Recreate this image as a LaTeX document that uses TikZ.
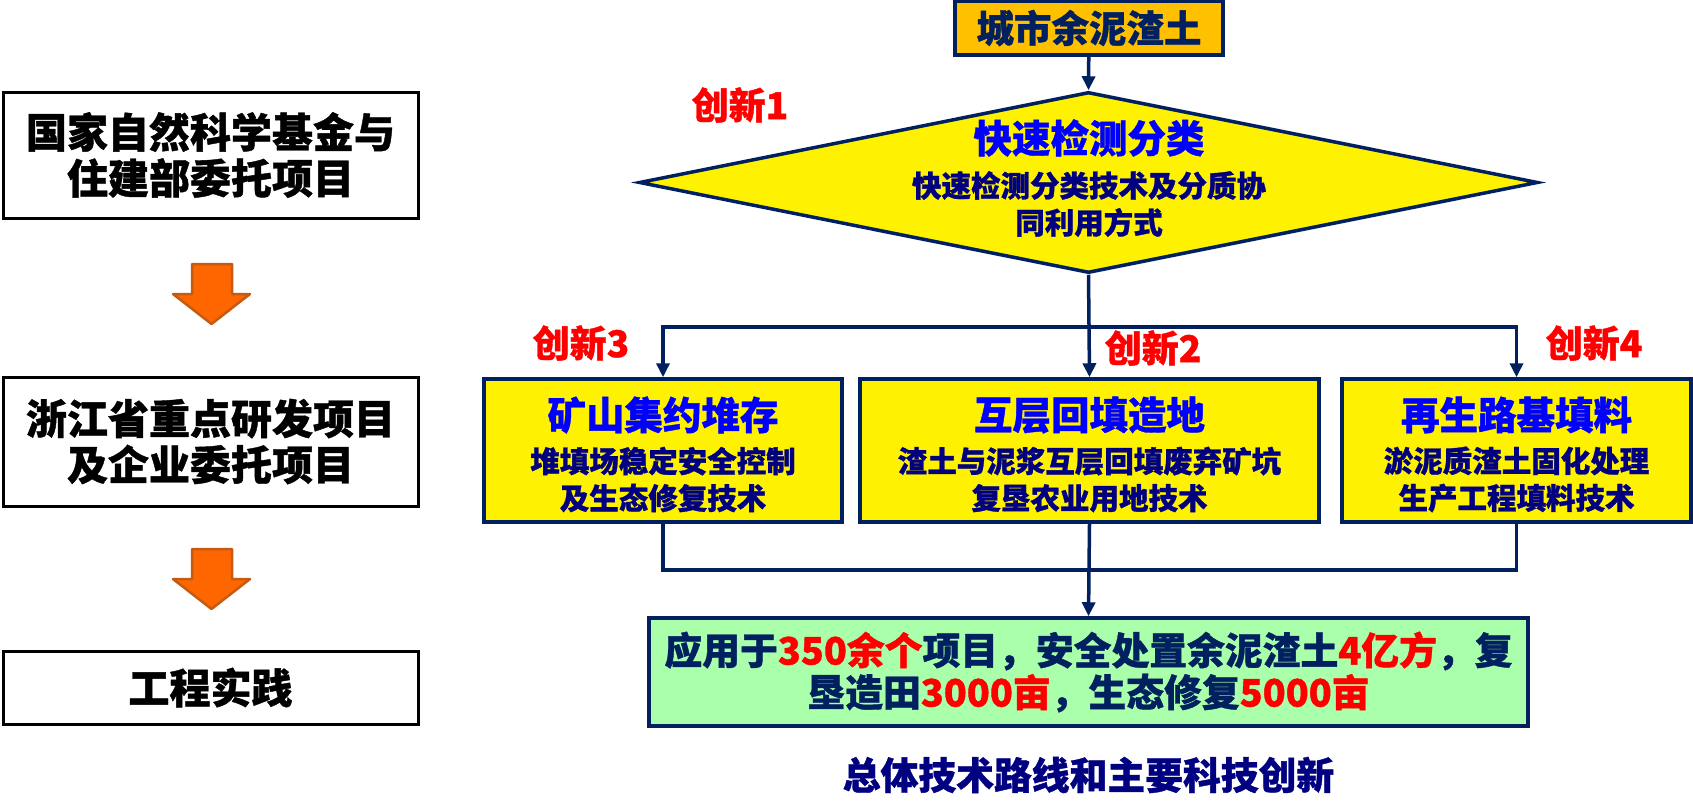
\documentclass[tikz,border=0pt]{standalone}
\usepackage{fontspec}
\setmainfont{Noto Sans CJK SC}[BoldFeatures={FakeBold=1}]
\usetikzlibrary{shapes.geometric,arrows.meta}
\definecolor{navy}{RGB}{0,32,96}
\definecolor{tblue}{RGB}{0,0,255}
\definecolor{snavy}{RGB}{0,0,128}
\definecolor{gold}{RGB}{255,192,0}
\definecolor{ofill}{RGB}{255,102,0}
\definecolor{oline}{RGB}{197,90,17}
\definecolor{lgreen}{RGB}{170,255,170}
\definecolor{red}{RGB}{255,0,0}
\newcommand{\fs}[2]{\fontsize{#1}{#2}\selectfont\bfseries}
\tikzset{
  lbox/.style={draw=black, line width=3pt, fill=white, inner sep=0pt, align=center, font=\fs{41}{46}},
  nbox/.style={draw=navy, line width=3.5pt, inner sep=0pt},
  conn/.style={draw=navy, line width=3.5pt},
  arr/.style={conn, -{Triangle[width=13pt,length=14pt]}},
  oarrow/.style={fill=ofill, draw=oline, line width=2.5pt, line join=round},
  ttl/.style={text=tblue, font=\fs{38.5}{44}, inner sep=0pt},
  sub/.style={text=snavy, font=\fs{29.5}{37}, align=center, inner sep=0pt},
  inn/.style={text=red, font=\fs{37}{40}, inner sep=0pt},
}
\begin{document}
\begin{tikzpicture}[x=1pt,y=-1pt]
\useasboundingbox (0,0) rectangle (1693,808);

% left column
\node[lbox, minimum width=415pt, minimum height=126pt] (l1) at (210.5,155) {国家自然科学基金与\\住建部委托项目};
\node[lbox, minimum width=415pt, minimum height=129pt] (l2) at (210.5,441.5) {浙江省重点研发项目\\及企业委托项目};
\node[lbox, minimum width=415pt, minimum height=73pt] (l3) at (210.5,687.5) {工程实践};
\foreach \dy in {0,285}{
  \draw[oarrow] (192,264+\dy) -- (232,264+\dy) -- (232,294+\dy) -- (250,294+\dy)
    -- (211.5,324+\dy) -- (173,294+\dy) -- (192,294+\dy) -- cycle;
}

% top source
\node[nbox, fill=gold, minimum width=268pt, minimum height=54pt, text=navy, font=\fs{37.5}{40}] (src) at (1089,28) {城市余泥渣土};

% diamond
\node[diamond, nbox, fill=yellow, minimum width=899pt, minimum height=181pt, aspect=4.97] (dia) at (1088.5,182.5) {};
\node[ttl] (diat) at (1089,138) {快速检测分类};
\node[sub] (dias) at (1089,204) {快速检测分类技术及分质协\\同利用方式};
\node[inn] (c1) at (740,105) {创新1};

% three boxes
\node[nbox, fill=yellow, minimum width=358pt, minimum height=143pt] (b1) at (663,450.5) {};
\node[nbox, fill=yellow, minimum width=459pt, minimum height=143pt] (b2) at (1089.5,450.5) {};
\node[nbox, fill=yellow, minimum width=349pt, minimum height=143pt] (b3) at (1516.5,450.5) {};
\node[ttl] (b1t) at (663,415) {矿山集约堆存};
\node[sub] (b1s) at (663,479.5) {堆填场稳定安全控制\\及生态修复技术};
\node[ttl] (b2t) at (1089.5,415) {互层回填造地};
\node[sub] (b2s) at (1089.5,479.5) {渣土与泥浆互层回填废弃矿坑\\复垦农业用地技术};
\node[ttl] (b3t) at (1516.5,415) {再生路基填料};
\node[sub] (b3s) at (1516.5,479.5) {淤泥质渣土固化处理\\生产工程填料技术};
\node[inn] (c3) at (581,343) {创新3};
\node[inn] (c2) at (1153,348) {创新2};
\node[inn] (c4) at (1594,343) {创新4};

% result
\node[nbox, fill=lgreen, minimum width=879pt, minimum height=108pt, text=navy, align=center, font=\fs{37.8}{42}] (res) at (1088.5,672)
  {应用于\textcolor{red}{350余个}项目，安全处置余泥渣土\textcolor{red}{4亿方}，复\\垦造田\textcolor{red}{3000亩}，生态修复\textcolor{red}{5000亩}};
\node[text=snavy, font=\fs{37.8}{42}, inner sep=0pt] (cap) at (1088.5,775) {总体技术路线和主要科技创新};

% connectors
\coordinate (split) at (1089,327);
\coordinate (join) at (1089,570);
\draw[arr] (src) -- (dia.north);
\draw[arr] (dia.south) -- (b2.north);
\draw[arr] (split) -| (b1.north);
\draw[arr] (split) -| (b3.north);
\draw[conn] (b1.south) -- (b1.south |- join) -- (b3.south |- join) -- (b3.south);
\draw[arr] (b2.south) -- (res.north);
\end{tikzpicture}
\end{document}
